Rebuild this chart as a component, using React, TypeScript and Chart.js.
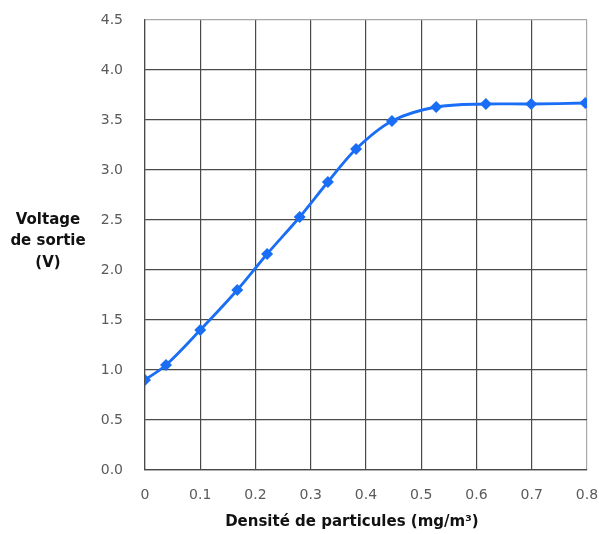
import React, { useEffect, useRef } from 'react';
import { Chart, registerables } from 'chart.js';

Chart.register(...registerables);

// Data
const densite = [0, 0.038, 0.1, 0.167, 0.221, 0.28, 0.331, 0.382, 0.447, 0.527, 0.617, 0.699, 0.797];
const voltage = [0.9, 1.05, 1.4, 1.8, 2.16, 2.53, 2.88, 3.21, 3.49, 3.63, 3.66, 3.66, 3.67];

const xTickLabels = ['0', '0.1', '0.2', '0.3', '0.4', '0.5', '0.6', '0.7', '0.8'];
const yTickLabels = ['0.0', '0.5', '1.0', '1.5', '2.0', '2.5', '3.0', '3.5', '4.0', '4.5'];
const yTitleLines = ['Voltage', 'de sortie', '(V)'];
const xTitle = 'Densité de particules (mg/m³)';

const BLUE = '#1a6ef5';
const GRID = '#4a4a4a';
const EDGE = '#a8a8a8';

const titlesPlugin = {
  id: 'customTitles',
  afterDraw(chart: any) {
    const { ctx, chartArea } = chart;
    ctx.save();
    ctx.font = 'bold 15px "DejaVu Sans"';
    ctx.fillStyle = '#111111';
    ctx.textAlign = 'center';
    ctx.textBaseline = 'middle';
    const cy = (chartArea.top + chartArea.bottom) / 2;
    yTitleLines.forEach((t, i) => {
      ctx.fillText(t, 48, cy - 25 + i * 21.5);
    });
    ctx.fillText(
      xTitle,
      chartArea.left + (chartArea.right - chartArea.left) * 0.468,
      chartArea.bottom + 52
    );
    ctx.restore();
  },
};

export default function App() {
  const ref = useRef<HTMLCanvasElement | null>(null);

  useEffect(() => {
    if (!ref.current) return;
    const chart = new Chart(ref.current, {
      type: 'line',
      data: {
        datasets: [
          {
            data: densite.map((x, i) => ({ x, y: voltage[i] })),
            borderColor: BLUE,
            backgroundColor: BLUE,
            borderWidth: 2.8,
            pointStyle: 'rectRot',
            pointRadius: 6,
            pointBorderWidth: 0,
            pointBackgroundColor: BLUE,
            tension: 0.33,
            fill: false,
          },
        ],
      },
      options: {
        responsive: false,
        animation: false,
        layout: { padding: { top: 20, right: 12, left: 0, bottom: 0 } },
        plugins: {
          legend: { display: false },
          tooltip: { enabled: false },
        },
        scales: {
          x: {
            type: 'linear',
            min: 0,
            max: 0.8,
            afterFit: (scale: any) => {
              scale.height = 64;
              scale.paddingLeft = 0;
              scale.paddingRight = 0;
            },
            ticks: {
              stepSize: 0.1,
              padding: 17,
              color: '#5a5a5a',
              font: { family: '"DejaVu Sans"', size: 14 },
              maxRotation: 0,
              callback: (_v: any, i: number) => xTickLabels[i],
            },
            grid: {
              drawTicks: false,
              color: (c: any) => (c.index === xTickLabels.length - 1 ? EDGE : GRID),
              lineWidth: 1.2,
            },
            border: { color: GRID, width: 1.2 },
          },
          y: {
            type: 'linear',
            min: 0,
            max: 4.5,
            afterFit: (scale: any) => {
              scale.width = 145;
              scale.paddingTop = 0;
              scale.paddingBottom = 0;
            },
            ticks: {
              stepSize: 0.5,
              padding: 22,
              color: '#5a5a5a',
              font: { family: '"DejaVu Sans"', size: 14 },
              callback: (_v: any, i: number) => yTickLabels[i],
            },
            grid: {
              drawTicks: false,
              color: (c: any) => (c.index === yTickLabels.length - 1 ? EDGE : GRID),
              lineWidth: 1.2,
            },
            border: { color: GRID, width: 1.2 },
          },
        },
      },
      plugins: [titlesPlugin],
    });
    return () => chart.destroy();
  }, []);

  return (
    <div style={{ position: 'absolute', left: 0, top: 0, width: 599, height: 534, background: '#fff' }}>
      <canvas ref={ref} width={599} height={534} style={{ width: 599, height: 534, display: 'block' }} />
    </div>
  );
}
